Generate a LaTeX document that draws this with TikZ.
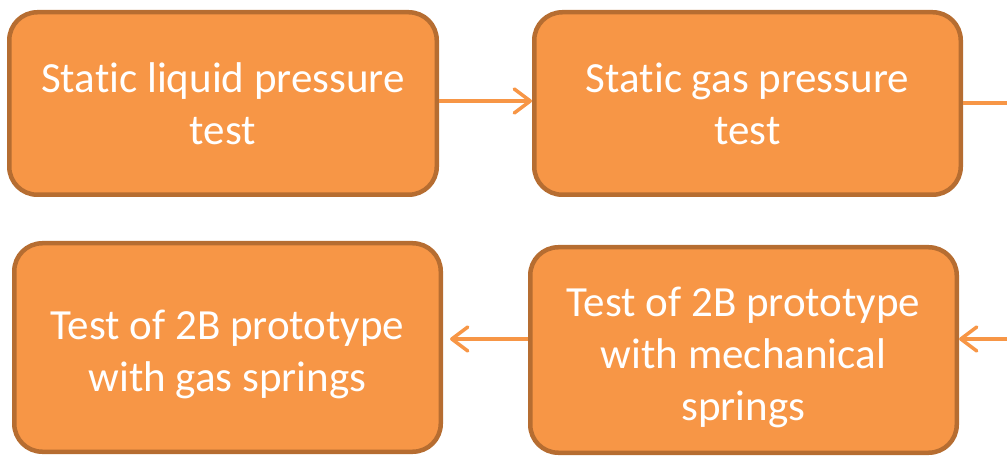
\documentclass[tikz,border=0pt]{standalone}
\usepackage{fontspec}
\setmainfont[Ligatures=NoCommon,RawFeature={-liga;-clig;-dlig}]{Carlito}
\usetikzlibrary{arrows.meta}
\definecolor{boxfill}{HTML}{F79646}
\definecolor{boxline}{HTML}{B66D31}
\definecolor{arrcol}{HTML}{F79646}
\begin{document}
\begin{tikzpicture}[x=1pt,y=-1pt,
  stepbox/.style={draw=boxline,fill=boxfill,line width=4.5pt,rounded corners=28pt,
    text=white,align=center,inner sep=0pt,
    font=\fontsize{43}{52}\selectfont},
  conn/.style={draw=arrcol,line width=3.5pt},
  arr/.style={conn,-{Straight Barb[length=16pt,width=24pt,line cap=round,line join=round]}}]
\useasboundingbox (0,0) rectangle (1007,457);
\node[stepbox,minimum width=427.5pt,minimum height=182.5pt] (b1) at (223,103.5)
  {Stat\kern0pt ic liquid pressure\\test};
\node[stepbox,minimum width=426.5pt,minimum height=182.5pt] (b2) at (747.5,103.5)
  {Stat\kern0pt ic gas pressure\\test};
\node[stepbox,minimum width=426.5pt,minimum height=208.5pt] (b3) at (227.5,347.5)
  {\rule{0pt}{44pt}Test of 2B prototype\\with gas springs};
\node[stepbox,minimum width=426.5pt,minimum height=205.5pt] (b4) at (743.5,350)
  {\rule{0pt}{44pt}Test of 2B prototype\\with mechanical\\springs};
\coordinate (r1) at (1007,103);
\coordinate (r2) at (1007,339);
\draw[arr] (b1.east |- 0,101) -- (b2.west |- 0,101);
\draw[conn] (b2.east |- r1) -- (r1);
\draw[arr] (r2) -- (r2 -| b4.east);
\draw[arr,shorten >=7pt] (r2 -| b4.west) -- (r2 -| b3.east);
\end{tikzpicture}
\end{document}
